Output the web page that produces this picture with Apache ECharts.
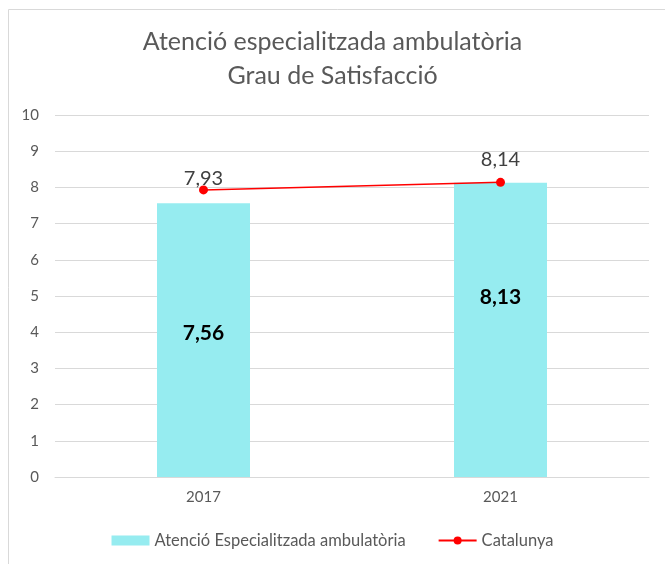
<!DOCTYPE html>
<html>
<head>
<meta charset="utf-8">
<script src="https://cdn.jsdelivr.net/npm/echarts@6/dist/echarts.min.js"></script>
<style>
  html, body { margin: 0; padding: 0; background: #fff; }
  #chart { width: 665px; height: 564px; }
</style>
</head>
<body>
<div id="chart"></div>
<script>
// values
const years = ['2017', '2021'];
const ambulatoria = [7.56, 8.13];
const catalunya = [7.93, 8.14];
const yTicks = [0, 10, 1];

// label nudges (the original has hand-placed labels)
const barLabelShift = [-7, -33];
const lineLabelShift = [5, -6];

const fmt = v => String(v.value.toFixed(2)).replace('.', ',');
const font = 'Lato, "Open Sans", sans-serif';

const chart = echarts.init(document.getElementById('chart'));
chart.setOption({
  animation: false,
  textStyle: {fontFamily: font},
  graphic: [{
    type: 'rect',
    shape: {x: 8.5, y: 9.5, width: 680, height: 580},
    style: {fill: 'none', stroke: '#d9d9d9', lineWidth: 1}
  }],
  title: {
    text: 'Atenció especialitzada ambulatòria\nGrau de Satisfacció',
    left: 'center',
    top: 20,
    textStyle: {fontSize: 25, fontWeight: 'normal', color: '#595959', lineHeight: 34, fontFamily: font}
  },
  legend: {
    bottom: 10,
    left: 'center',
    itemGap: 32,
    textStyle: {fontSize: 16.5, color: '#595959', fontFamily: font},
    data: [
      {name: 'Atenció Especialitzada ambulatòria', icon: 'rect', itemStyle: {color: '#96ecf0'}},
      {name: 'Catalunya'}
    ],
    itemWidth: 38,
    itemHeight: 10
  },
  grid: {left: 55, right: 16, top: 115, bottom: 87},
  xAxis: {
    type: 'category',
    data: years,
    axisLine: {lineStyle: {color: '#d9d9d9'}},
    axisTick: {show: false},
    axisLabel: {color: '#595959', fontSize: 15, margin: 13, fontFamily: font}
  },
  yAxis: {
    type: 'value',
    min: yTicks[0],
    max: yTicks[1],
    interval: yTicks[2],
    axisLabel: {color: '#595959', fontSize: 15, margin: 16, fontFamily: font},
    splitLine: {lineStyle: {color: '#d9d9d9'}}
  },
  series: [
    {
      name: 'Atenció Especialitzada ambulatòria',
      type: 'bar',
      data: ambulatoria.map((v, i) => ({value: v, label: {offset: [0, barLabelShift[i]]}})),
      barWidth: 93,
      itemStyle: {color: '#96ecf0'},
      label: {
        show: true,
        position: 'inside',
        formatter: fmt,
        color: '#000',
        fontSize: 21,
        fontWeight: 'bold',
        fontFamily: font
      }
    },
    {
      name: 'Catalunya',
      type: 'line',
      data: catalunya.map((v, i) => ({value: v, label: {offset: [0, lineLabelShift[i]]}})),
      symbol: 'circle',
      symbolSize: 9,
      lineStyle: {color: '#ff0000', width: 1.5},
      itemStyle: {color: '#ff0000'},
      label: {
        show: true,
        position: 'top',
        distance: 2,
        formatter: fmt,
        color: '#404040',
        fontSize: 20,
        fontFamily: font
      }
    }
  ]
});
</script>
</body>
</html>
